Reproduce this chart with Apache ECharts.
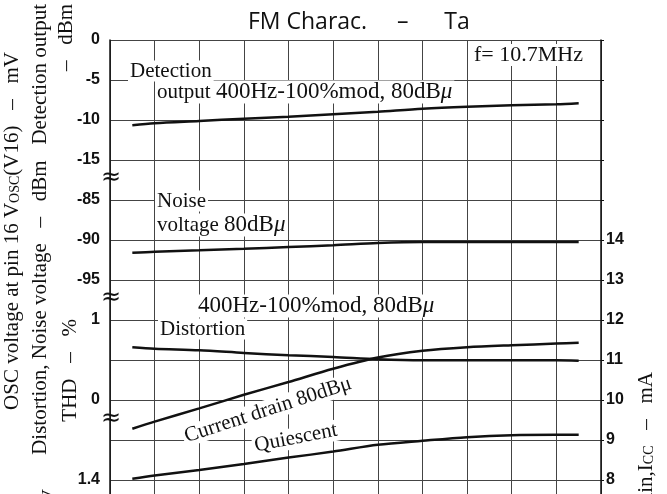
<!DOCTYPE html>
<html>
<head>
<meta charset="utf-8">
<title>FM Charac. - Ta</title>
<script src="https://cdn.jsdelivr.net/npm/echarts@6/dist/echarts.min.js"></script>
<style>
    html, body { margin: 0; padding: 0; background: #fff; }
    #chart { width: 667px; height: 494px; }
</style>
</head>
<body>
<div id="chart"></div>
<script>
    // Ta (degC)
    var temps = [-25, -20, -10, 0, 10, 20, 30, 40, 50, 60, 70, 75];
    // Detection output (dBm)
    var detection = [-10.66, -10.41, -10.13, -9.84, -9.59, -9.29, -8.96, -8.59, -8.34, -8.16, -8.04, -7.91];
    // Noise voltage (dBm)
    var noise = [-91.59, -91.46, -91.29, -91.09, -90.88, -90.66, -90.38, -90.25, -90.25, -90.25, -90.25, -90.25];
    // THD (%)
    var distortion = [0.659, 0.641, 0.621, 0.588, 0.559, 0.538, 0.509, 0.496, 0.496, 0.496, 0.496, 0.491];
    // current drain 80dBu (mA)
    var currentDrain = [9.28, 9.46, 9.79, 10.13, 10.45, 10.78, 11.06, 11.23, 11.32, 11.37, 11.41, 11.43];
    // quiescent current (mA)
    var quiescent = [8.03, 8.11, 8.25, 8.40, 8.56, 8.71, 8.88, 8.98, 9.07, 9.12, 9.13, 9.13];

    // tick labels, one per grid row from the top
    var leftTicks = ['0', '-5', '-10', '-15', '-85', '-90', '-95', '1', '', '0', '', '1.4'];
    var rightTicks = ['', '', '', '', '', '14', '13', '12', '11', '10', '9', '8'];

    // broken axis: every scale is mapped onto grid rows
    function detRow(v) { return -v / 5; }
    function noiseRow(v) { return 4 + (-85 - v) / 5; }
    function thdRow(v) { return 7 + (1 - v) / 0.5; }
    function iccRow(v) { return 5 + (14 - v); }

    function toSeries(vals, fn) {
        return vals.map(function (v, i) { return [temps[i], fn(v)]; });
    }

    var serif = 'Liberation Serif, serif';
    var tickFont = {
        fontFamily: 'Liberation Sans, Arial, sans-serif',
        fontWeight: 'bold',
        fontSize: 16,
        color: '#111'
    };

    function line(name, data) {
        return {
            name: name,
            type: 'line',
            data: data,
            smooth: 0.3,
            symbol: 'none',
            lineStyle: { color: '#111', width: 2.5 },
            z: 5
        };
    }

    function label(text, x, y, opt) {
        opt = opt || {};
        var size = opt.size || 21;
        return {
            type: 'text',
            x: x,
            y: y,
            rotation: opt.rotation || 0,
            z: opt.z || 3,
            style: {
                text: text,
                font: size + 'px ' + (opt.family || serif),
                fill: '#111',
                align: opt.align || 'left',
                verticalAlign: 'middle',
                backgroundColor: opt.bg === false ? null : '#fff',
                padding: opt.padding || [0, 2],
                rich: {
                    big: { fontSize: 23, fontFamily: serif },
                    mu: { fontStyle: 'italic', fontSize: 23, fontFamily: serif },
                    sub: { fontSize: 14, fontFamily: serif, verticalAlign: 'bottom', padding: [6, 0, 0, 0] }
                }
            }
        };
    }

    var chart = echarts.init(document.getElementById('chart'));
    var option = {
        animation: false,
        backgroundColor: '#fff',
        title: {
            text: 'FM Charac.     –      Ta',
            left: 243,
            top: 6,
            textStyle: { fontFamily: 'Open Sans, sans-serif', fontWeight: 'normal', fontSize: 23, color: '#111' }
        },
        grid: { left: 110, right: 66, top: 40, bottom: 0 },
        xAxis: {
            type: 'value',
            min: -30,
            max: 80,
            interval: 10,
            axisLine: { show: false },
            axisTick: { show: false },
            axisLabel: { show: false },
            splitLine: { show: true, lineStyle: { color: '#444', width: 1 } }
        },
        yAxis: [
            {
                type: 'value',
                position: 'left',
                inverse: true,
                min: 0,
                max: 11.35,
                interval: 1,
                axisLine: { show: true, onZero: false, lineStyle: { color: '#111', width: 1.5 } },
                axisTick: { show: false },
                axisLabel: Object.assign({
                    margin: 10,
                    showMaxLabel: false,
                    formatter: function (v) { return Number.isInteger(v) ? (leftTicks[v] || '') : ''; }
                }, tickFont),
                splitLine: { show: true, showMaxLine: false, lineStyle: { color: '#444', width: 1 } }
            },
            {
                type: 'value',
                position: 'right',
                inverse: true,
                min: 0,
                max: 11.35,
                interval: 1,
                axisLine: { show: true, onZero: false, lineStyle: { color: '#111', width: 1.5 } },
                axisTick: { show: true, length: 3, lineStyle: { color: '#111' } },
                axisLabel: Object.assign({
                    margin: 5,
                    showMaxLabel: false,
                    formatter: function (v) { return Number.isInteger(v) ? (rightTicks[v] || '') : ''; }
                }, tickFont),
                splitLine: { show: false }
            }
        ],
        series: [
            line('Detection output', toSeries(detection, detRow)),
            line('Noise voltage', toSeries(noise, noiseRow)),
            line('Distortion', toSeries(distortion, thdRow)),
            line('Current drain', toSeries(currentDrain, iccRow)),
            line('Quiescent', toSeries(quiescent, iccRow))
        ],
        graphic: [
            // curve labels
            label('Detection', 128, 71),
            label('output {big|400Hz-100%mod, 80dB}{mu|μ}', 155, 92),
            label('f= 10.7MHz', 472, 55, { size: 22 }),
            label('Noise', 155, 201),
            label('voltage {big|80dB}{mu|μ}', 155, 225),
            label('{big|400Hz-100%mod, 80dB}{mu|μ}', 196, 306),
            label('Distortion', 158, 329),
            label('Current drain 80dBμ', 268, 410, { align: 'center', rotation: 18 * Math.PI / 180 }),
            label('Quiescent', 296, 438, { align: 'center', rotation: 11 * Math.PI / 180 }),

            // axis break marks
            label('≈', 111, 178, { align: 'center', size: 24, family: 'DejaVu Sans, sans-serif', bg: false, z: 6 }),
            label('≈', 111, 298, { align: 'center', size: 24, family: 'DejaVu Sans, sans-serif', bg: false, z: 6 }),
            label('≈', 111, 419, { align: 'center', size: 24, family: 'DejaVu Sans, sans-serif', bg: false, z: 6 }),

            // axis titles (vertical)
            label('OSC voltage at pin 16 V{sub|OSC}(V16)   –   mV', 12, 50, { align: 'right', rotation: Math.PI / 2, bg: false }),
            label('V', 50, 487, { align: 'right', rotation: Math.PI / 2, bg: false }),
            label('Distortion, Noise voltage   –   dBm   Detection output', 40, 2, { align: 'right', rotation: Math.PI / 2, bg: false }),
            label('–   dBm', 66, 2, { align: 'right', rotation: Math.PI / 2, bg: false }),
            label('THD   –   %', 70, 317, { align: 'right', rotation: Math.PI / 2, bg: false }),
            label('Current drain,I{sub|CC}   –   mA', 646, 370, { align: 'right', rotation: Math.PI / 2, bg: false })
        ]
    };
    chart.setOption(option);
</script>
</body>
</html>
